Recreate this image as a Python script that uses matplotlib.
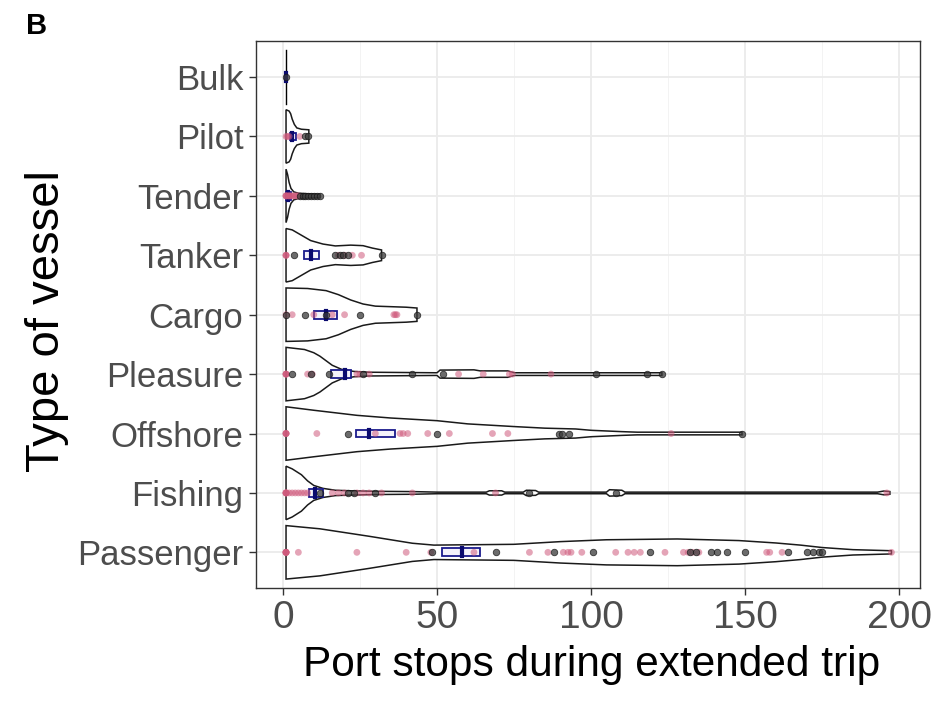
import numpy as np
import matplotlib
matplotlib.use('Agg')
import matplotlib.pyplot as plt

# vessel types, bottom to top
vessels = ['Passenger', 'Fishing', 'Offshore', 'Pleasure', 'Cargo',
           'Tanker', 'Tender', 'Pilot', 'Bulk']

# violin outlines: port stops and relative density (1 = widest)
passenger_x = [1, 12, 28, 42, 49, 75, 90, 105, 128, 148, 160, 168, 175, 185, 197.5]
passenger_w = [1.0, 0.88, 0.6, 0.34, 0.27, 0.3, 0.4, 0.47, 0.5, 0.44, 0.35, 0.27, 0.18, 0.1, 0.06]
fishing_x = [1, 3, 6, 8, 10, 13, 17, 22, 30, 42, 50, 66, 67, 71, 72, 78, 79, 82, 83,
             105, 106, 110, 111, 193, 195, 197]
fishing_w = [1.0, 0.9, 0.68, 0.45, 0.28, 0.17, 0.1, 0.08, 0.06, 0.05, 0.03, 0.03, 0.08, 0.08,
             0.03, 0.03, 0.1, 0.09, 0.03, 0.03, 0.12, 0.1, 0.03, 0.03, 0.07, 0.05]
offshore_x = [1, 10, 24, 35, 50, 60, 75, 85, 95, 100, 110, 115, 149]
offshore_w = [1.0, 0.87, 0.68, 0.58, 0.48, 0.36, 0.26, 0.2, 0.17, 0.12, 0.07, 0.05, 0.05]
pleasure_x = [1, 7, 10, 12, 14, 16, 19, 23, 28, 50, 51, 62, 64, 73, 75, 123]
pleasure_w = [1.0, 0.92, 0.8, 0.67, 0.5, 0.33, 0.18, 0.1, 0.07, 0.05, 0.15, 0.16, 0.12,
              0.12, 0.05, 0.05]
cargo_x = [1, 8, 14, 18, 22, 26, 30, 40, 43.5]
cargo_w = [1.0, 0.98, 0.9, 0.75, 0.55, 0.4, 0.32, 0.28, 0.25]
tanker_x = [1, 3, 6, 9, 13, 17, 22, 26, 29, 32]
tanker_w = [1.0, 0.95, 0.75, 0.55, 0.42, 0.35, 0.38, 0.36, 0.27, 0.2]
tender_x = [1, 1.5, 2, 2.6, 3.5, 5, 8, 12]
tender_w = [1.0, 0.8, 0.5, 0.28, 0.15, 0.1, 0.08, 0.06]
pilot_x = [1, 2, 2.5, 3, 3.7, 4.5, 6, 8.4]
pilot_w = [1.0, 0.95, 0.85, 0.65, 0.45, 0.32, 0.27, 0.25]
bulk_x = [1, 1]
bulk_w = [1.0, 1.0]

# boxes: lower quartile, median, upper quartile
box_q1 = [51.5, 8.5, 23.7, 15.5, 10.2, 6.9, 1, 2.4, 1]
box_med = [58, 10.5, 28, 20, 14, 9, 1.5, 3, 1]
box_q3 = [64, 13, 36.5, 22, 17.7, 11.8, 2.5, 4.2, 1]

# individual trips, two groups
passenger_pink = [1, 1, 1, 1, 1, 1, 5, 24, 40, 48, 62, 80, 86, 91, 92.5, 93.5, 97, 108,
                  112, 114, 116, 124, 130, 131.5, 133, 135, 157, 158, 162, 197.5]
passenger_dark = [48.5, 69, 88, 100.5, 119, 132, 134, 139, 141, 144, 150, 164, 170, 172,
                  174, 175]
fishing_pink = [1, 1, 1, 1, 1, 2, 3, 4, 5, 6, 7, 8, 16, 18, 20, 24, 26, 28, 32, 42, 69, 196]
fishing_dark = [12, 21, 23, 30, 80, 108]
offshore_pink = [1, 1, 1, 1, 11, 30, 38, 39, 40.5, 47, 54, 68, 73, 126]
offshore_dark = [21, 50, 89.5, 90.5, 93, 149]
pleasure_pink = [1, 1, 1, 1, 8, 9.5, 24, 25, 28, 57, 65, 73.5, 74.5, 87]
pleasure_dark = [3, 9, 15, 26, 42, 52, 101.5, 118, 123]
cargo_pink = [1, 3, 10, 16, 20, 36, 36.5, 37]
cargo_dark = [1, 7, 14, 25, 43.5]
tanker_pink = [1, 1, 1, 18, 20, 22.5, 25.5]
tanker_dark = [3.5, 17, 18.5, 19.5, 21, 32]
tender_pink = [1, 1, 1, 1.5, 2, 2, 2.5, 3, 3.5, 4, 4.5, 5]
tender_dark = [5.5, 6.5, 7, 8, 9, 10, 11, 12]
pilot_pink = [1, 1.5, 2, 5.5]
pilot_dark = [7, 8]
bulk_pink = []
bulk_dark = [1]

outlines = [(passenger_x, passenger_w), (fishing_x, fishing_w), (offshore_x, offshore_w),
            (pleasure_x, pleasure_w), (cargo_x, cargo_w), (tanker_x, tanker_w),
            (tender_x, tender_w), (pilot_x, pilot_w), (bulk_x, bulk_w)]
pinks = [passenger_pink, fishing_pink, offshore_pink, pleasure_pink, cargo_pink,
         tanker_pink, tender_pink, pilot_pink, bulk_pink]
darks = [passenger_dark, fishing_dark, offshore_dark, pleasure_dark, cargo_dark,
         tanker_dark, tender_dark, pilot_dark, bulk_dark]

font = ['Liberation Sans', 'DejaVu Sans']
plt.rcParams['font.family'] = font

fig = plt.figure(figsize=(9.36, 7.14), dpi=100)
ax = fig.add_axes([0.2735, 0.1765, 0.7095, 0.7655])

half = 0.45
for i, (xs, ws) in enumerate(outlines):
    pos = i + 1
    xs = np.array(xs, dtype=float)
    ws = np.array(ws) * half
    if xs[0] == xs[-1]:
        ax.plot([xs[0], xs[0]], [pos - half, pos + half], color='black', lw=1, zorder=3)
        continue
    px = np.concatenate([xs, xs[::-1], xs[:1]])
    py = np.concatenate([pos + ws, (pos - ws)[::-1], [pos + ws[0]]])
    ax.fill(px, py, facecolor='white', edgecolor='#1A1A1A', lw=1.1, zorder=3)

for i in range(len(vessels)):
    pos = i + 1
    bh = 0.065
    q1, md, q3 = box_q1[i], box_med[i], box_q3[i]
    ax.fill([q1, q3, q3, q1, q1], [pos - bh, pos - bh, pos + bh, pos + bh, pos - bh],
            facecolor='#F4F2FA', edgecolor='#1A1A8C', lw=1.3, zorder=4)
    ax.plot([md, md], [pos - bh, pos + bh], color='#0A0A6E', lw=3, zorder=4)

for i in range(len(vessels)):
    pos = i + 1
    p = pinks[i]
    d = darks[i]
    ax.scatter(p, [pos] * len(p), s=24, color='#CF5A7C', alpha=0.55, edgecolors='none',
               zorder=5)
    ax.scatter(d, [pos] * len(d), s=22, facecolor='#3A3A3A', edgecolor='#111111',
               alpha=0.75, lw=0.6, zorder=5)

ax.set_xlim(-8.75, 206.8)
ax.set_ylim(0.4, 9.6)
ax.set_xticks([0, 50, 100, 150, 200])
ax.set_xticks([25, 75, 125, 175], minor=True)
ax.set_yticks(range(1, len(vessels) + 1))
ax.set_yticklabels(vessels)

ax.grid(True, which='major', color='#EBEBEB', lw=1.3, zorder=0)
ax.grid(True, which='minor', axis='x', color='#F3F3F3', lw=0.7, zorder=0)
ax.set_axisbelow(True)
ax.tick_params(which='minor', length=0)
ax.tick_params(which='major', length=5, width=1, color='#333333', labelcolor='#4D4D4D',
               pad=4)
ax.tick_params(axis='x', labelsize=28)
ax.tick_params(axis='y', labelsize=25)
for sp in ax.spines.values():
    sp.set_color('#333333')
    sp.set_linewidth(1)

ax.set_xlabel('Port stops during extended trip', fontsize=30.5)
ax.xaxis.set_label_coords(0.506, -0.105)
ax.xaxis.label.set_va('top')
ax.set_ylabel('Type of vessel', fontsize=34)
ax.yaxis.set_label_coords(-0.282, 0.489)
fig.text(0.028, 0.963, 'B', fontsize=21, fontweight='bold', va='center')

fig.savefig('out.png', dpi=100)
